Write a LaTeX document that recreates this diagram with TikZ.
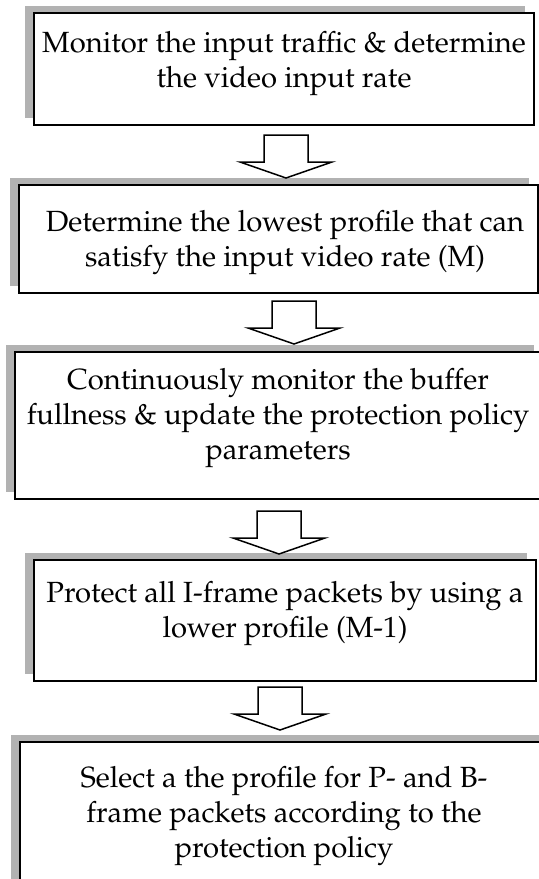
\documentclass[tikz,border=0pt]{standalone}
\usepackage[T1]{fontenc}
\usepackage{mathpazo}
\usetikzlibrary{fit,shadows}
\begin{document}
\begin{tikzpicture}[x=0.5pt,y=-0.5pt,
  box/.style={draw=black, line width=1pt, fill=white, inner sep=0pt,
    general shadow={fill=black!30, shadow xshift=-4.5pt, shadow yshift=3.5pt}},
  txt/.style={align=center, inner sep=0pt, font=\fontsize{14.6}{17.5}\selectfont},
  barrow/.style={draw=black, line width=0.75pt, fill=white, line join=miter},
  pics/blockarrow/.style={code={
    \draw[barrow] (-22,0) -- (-22,27) -- (-46,27) -- (0,43) -- (46,27) -- (22,27) -- (22,0) -- cycle;}}
]
\useasboundingbox (0,0) rectangle (539,879);
\clip (0,0) rectangle (539,879);

\node[box, fit={(34,13) (534,125)}] (b1) {};
\node[box, fit={(19,185) (538,293)}] (b2) {};
\node[box, fit={(15,352) (543,499)}] (b3) {};
\node[box, fit={(34,560) (536,681)}] (b4) {};
\node[box, fit={(20,742) (550,905)}] (b5) {};

\node[txt] (t1) at (284,64) {Monitor the input traffic \& determine\\the video input rate};
\node[txt] (t2) at (285,243) {Determine the lowest profile that can\\satisfy the input video rate (M)};
\node[txt] (t3) at (278,418) {Continuously monitor the buffer\\fullness \& update the protection policy\\parameters};
\node[txt] (t4) at (285,614) {Protect all I-frame packets by using a\\lower profile (M-1)};
\node[txt] (t5) at (284,816) {Select a the profile for P- and B-\\frame packets according to the\\protection policy};

\coordinate (a1) at (286,135);
\coordinate (a2) at (294,301);
\coordinate (a3) at (279,511);
\coordinate (a4) at (280,687);
\pic at (a1) {blockarrow};
\pic at (a2) {blockarrow};
\pic at (a3) {blockarrow};
\pic at (a4) {blockarrow};
\end{tikzpicture}
\end{document}
